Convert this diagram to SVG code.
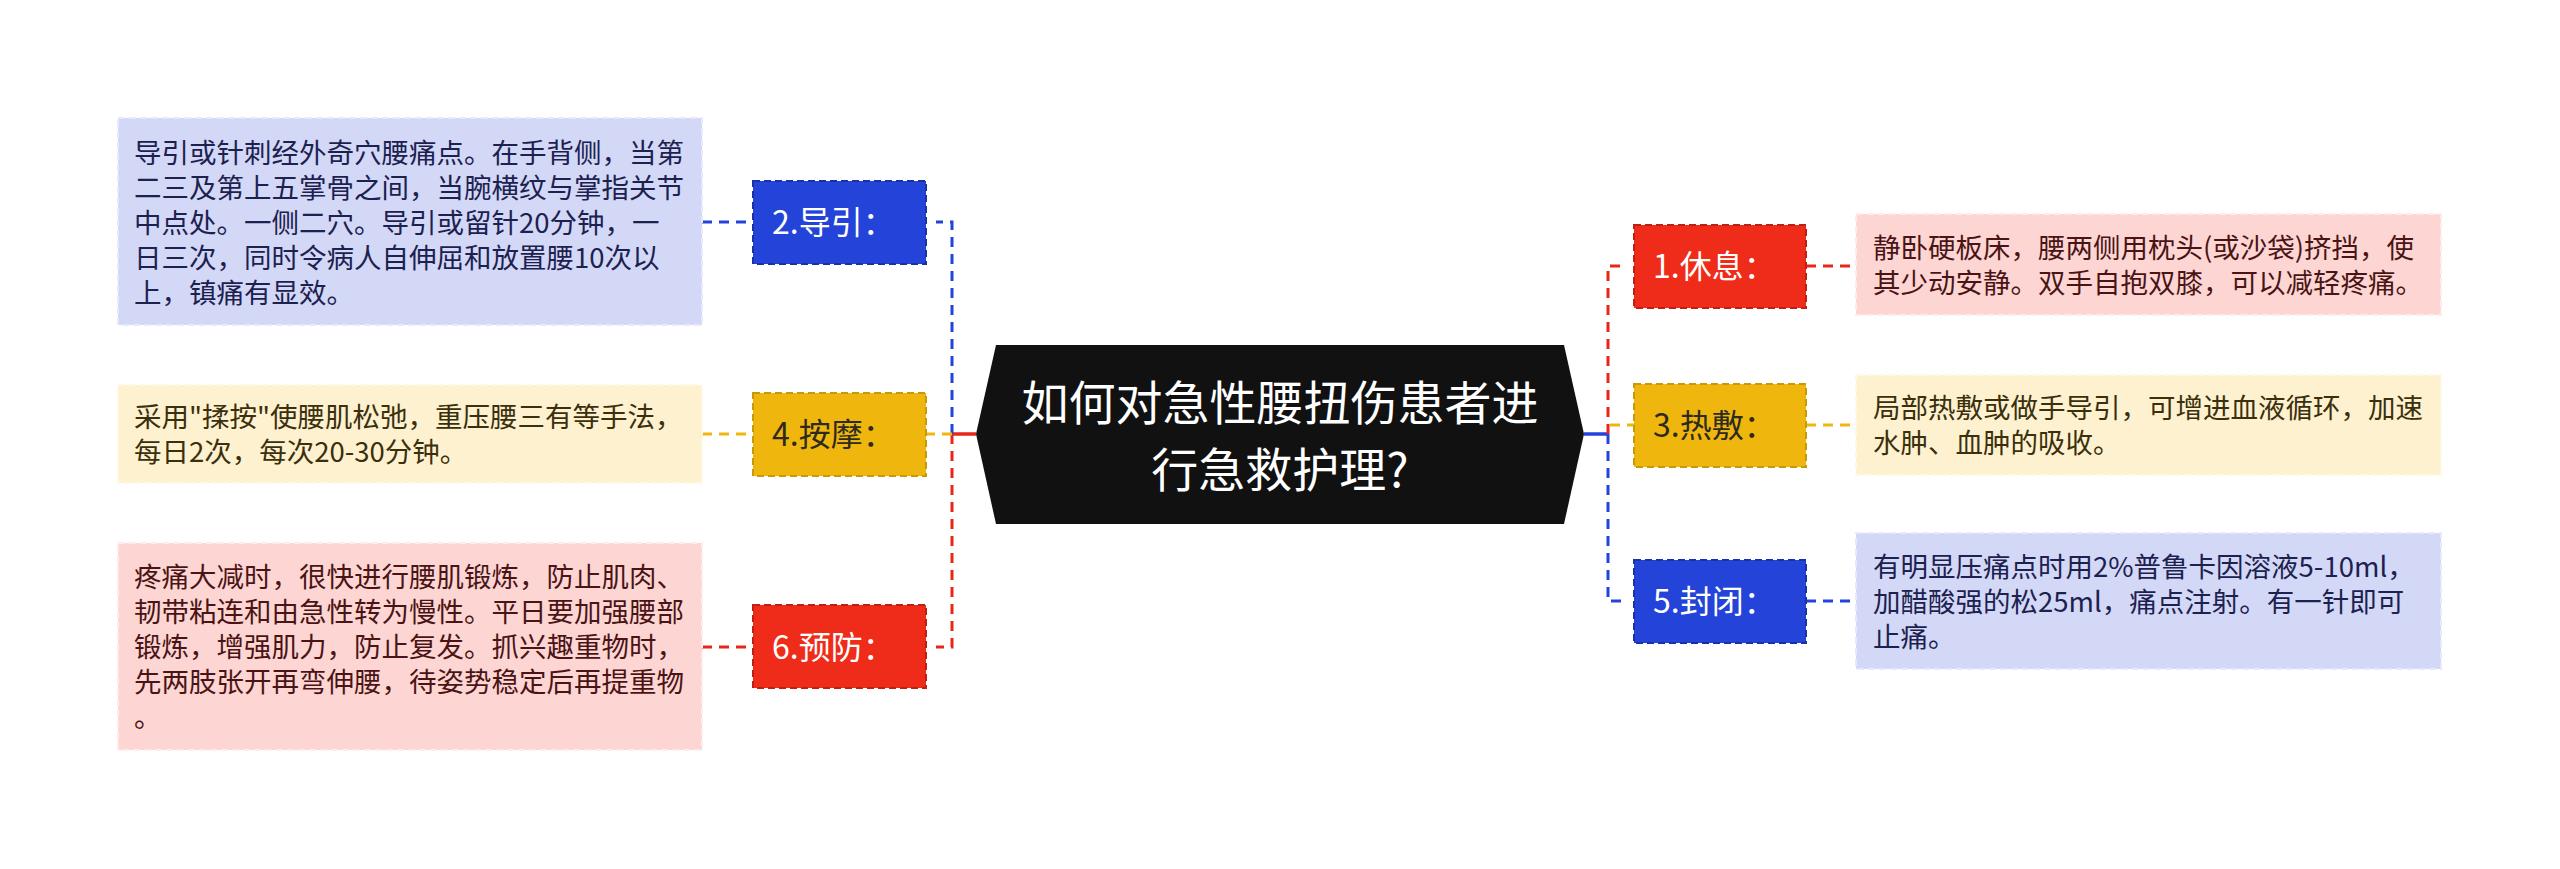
<svg xmlns="http://www.w3.org/2000/svg" width="2560" height="869" viewBox="0 0 2560 869">
<style>
.t{font-family:"Noto Sans CJK SC","Noto Sans",sans-serif;}
.box{font-size:27.5px;}
.mid{font-size:32px;}
.blueN{fill:#2443d8;stroke:#1a31a8;stroke-width:2;stroke-dasharray:7 4;}
.yelN{fill:#efb70e;stroke:#c99a08;stroke-width:2;stroke-dasharray:7 4;}
.redN{fill:#ef2b19;stroke:#c11f10;stroke-width:2;stroke-dasharray:7 4;}
.blueB{fill:#d3d8f6;stroke:#e6e9fb;stroke-width:2;stroke-dasharray:7 4;}
.yelB{fill:#fdf1d0;stroke:#fef8e6;stroke-width:2;stroke-dasharray:7 4;}
.redB{fill:#fdd6d4;stroke:#feeceb;stroke-width:2;stroke-dasharray:7 4;}
.wt{fill:#ffffff;}
.yt{fill:#2e2a1e;}
.bbt{fill:#1c2150;}
.ybt{fill:#3b2f0c;}
.rbt{fill:#4b1414;}
.c{fill:none;stroke-width:3;stroke-dasharray:10 7;}
.cb{stroke:#2443d8;}
.cy{stroke:#efb70e;}
.cr{stroke:#e8271a;}
</style>
<rect width="2560" height="869" fill="#ffffff"/>
<g id="connectors">
  <line x1="976" y1="434" x2="952" y2="434" stroke="#e8271a" stroke-width="3.5"/>
  <path class="c cb" d="M952,434 V222 H936"/>
  <path class="c cr" d="M952,434 V647 H936"/>
  <path class="c cy" d="M952,434 H926"/>
  <path class="c cb" d="M702,222 H753"/>
  <path class="c cy" d="M702,434 H753"/>
  <path class="c cr" d="M702,647 H753"/>
  <line x1="1584" y1="434" x2="1608" y2="434" stroke="#2443d8" stroke-width="3.5"/>
  <path class="c cr" d="M1608,434 V266 H1624"/>
  <path class="c cb" d="M1608,434 V601 H1624"/>
  <path class="c cy" d="M1610,425 H1634"/>
  <path class="c cr" d="M1806,266 H1856"/>
  <path class="c cy" d="M1806,425 H1856"/>
  <path class="c cb" d="M1806,601 H1856"/>
</g>
<g id="center">
  <polygon points="996,345 1564,345 1584,434 1564,524 996,524 976,434" fill="#111111"/>
  <text class="t" x="1280" y="420" font-size="47" fill="#ffffff" text-anchor="middle">如何对急性腰扭伤患者进</text>
  <text class="t" x="1280" y="487" font-size="47" fill="#ffffff" text-anchor="middle">行急救护理?</text>
</g>
<g id="n2">
  <rect class="blueN" x="753" y="181" width="173" height="83"/>
  <text class="t mid wt" x="772" y="234">2.导引：</text>
</g>
<g id="n4">
  <rect class="yelN" x="753" y="393" width="173" height="83"/>
  <text class="t mid yt" x="772" y="446">4.按摩：</text>
</g>
<g id="n6">
  <rect class="redN" x="753" y="605" width="173" height="83"/>
  <text class="t mid wt" x="772" y="659">6.预防：</text>
</g>
<g id="n1">
  <rect class="redN" x="1634" y="225" width="172" height="83"/>
  <text class="t mid wt" x="1653" y="278">1.休息：</text>
</g>
<g id="n3">
  <rect class="yelN" x="1634" y="384" width="172" height="83"/>
  <text class="t mid yt" x="1653" y="437">3.热敷：</text>
</g>
<g id="n5">
  <rect class="blueN" x="1634" y="560" width="172" height="83"/>
  <text class="t mid wt" x="1653" y="613">5.封闭：</text>
</g>
<g id="b2">
  <rect class="blueB" x="118" y="118" width="584" height="207"/>
  <text class="t box bbt" x="134" y="162.5">导引或针刺经外奇穴腰痛点。在手背侧，当第</text>
  <text class="t box bbt" x="134" y="197.5">二三及第上五掌骨之间，当腕横纹与掌指关节</text>
  <text class="t box bbt" x="134" y="232.5">中点处。一侧二穴。导引或留针20分钟，一</text>
  <text class="t box bbt" x="134" y="267.5">日三次，同时令病人自伸屈和放置腰10次以</text>
  <text class="t box bbt" x="134" y="302.5">上，镇痛有显效。</text>
</g>
<g id="b4">
  <rect class="yelB" x="118" y="385" width="584" height="98"/>
  <text class="t box ybt" x="134" y="427">采用"揉按"使腰肌松弛，重压腰三有等手法，</text>
  <text class="t box ybt" x="134" y="462">每日2次，每次20-30分钟。</text>
</g>
<g id="b6">
  <rect class="redB" x="118" y="543" width="584" height="207"/>
  <text class="t box rbt" x="134" y="587">疼痛大减时，很快进行腰肌锻炼，防止肌肉、</text>
  <text class="t box rbt" x="134" y="622">韧带粘连和由急性转为慢性。平日要加强腰部</text>
  <text class="t box rbt" x="134" y="657">锻炼，增强肌力，防止复发。抓兴趣重物时，</text>
  <text class="t box rbt" x="134" y="692">先两肢张开再弯伸腰，待姿势稳定后再提重物</text>
  <text class="t box rbt" x="134" y="727">。</text>
</g>
<g id="b1">
  <rect class="redB" x="1856" y="214" width="585" height="101"/>
  <text class="t box rbt" x="1873" y="257.5">静卧硬板床，腰两侧用枕头(或沙袋)挤挡，使</text>
  <text class="t box rbt" x="1873" y="292.5">其少动安静。双手自抱双膝，可以减轻疼痛。</text>
</g>
<g id="b3">
  <rect class="yelB" x="1856" y="375" width="585" height="100"/>
  <text class="t box ybt" x="1873" y="418">局部热敷或做手导引，可增进血液循环，加速</text>
  <text class="t box ybt" x="1873" y="453">水肿、血肿的吸收。</text>
</g>
<g id="b5">
  <rect class="blueB" x="1856" y="533" width="585" height="136"/>
  <text class="t box bbt" x="1873" y="576.5">有明显压痛点时用2%普鲁卡因溶液5-10ml，</text>
  <text class="t box bbt" x="1873" y="611.5">加醋酸强的松25ml，痛点注射。有一针即可</text>
  <text class="t box bbt" x="1873" y="646.5">止痛。</text>
</g>
</svg>
